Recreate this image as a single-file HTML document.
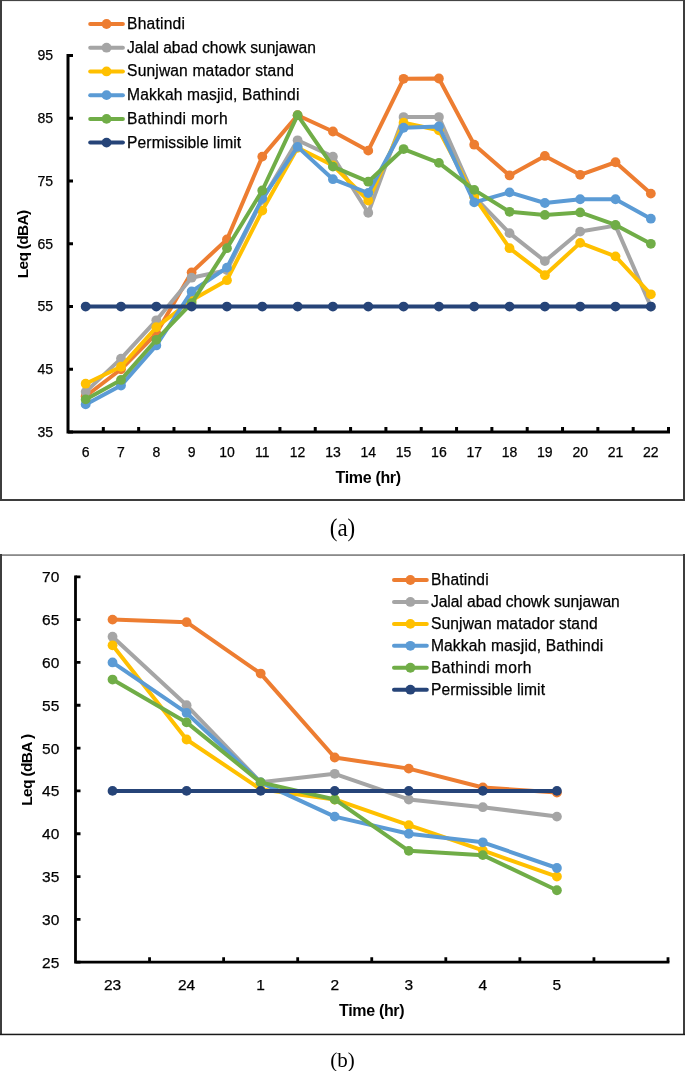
<!DOCTYPE html>
<html><head><meta charset="utf-8"><style>
html,body{margin:0;padding:0;background:#fff;width:685px;height:1071px;overflow:hidden}
svg text{font-family:"Liberation Sans",sans-serif;fill:#000;stroke:#000;stroke-width:0.25px}
</style></head><body>
<svg width="685" height="1071" viewBox="0 0 685 1071" style="display:block;font-family:'Liberation Sans',sans-serif;fill:#000;will-change:transform"><rect x="0" y="0" width="685" height="1.1" fill="#444"/>
<rect x="0" y="0" width="2" height="501" fill="#3d3d3d"/>
<rect x="683" y="0" width="2" height="501" fill="#3d3d3d"/>
<rect x="0" y="499" width="685" height="2" fill="#3d3d3d"/>
<rect x="0" y="554.2" width="685" height="1.8" fill="#8a8a8a"/>
<rect x="0" y="554" width="2" height="481" fill="#3d3d3d"/>
<rect x="683" y="554" width="2" height="481" fill="#3d3d3d"/>
<rect x="0" y="1033.7" width="685" height="1.5" fill="#1a1a1a"/>
<path d="M68 55.6 V432 H668.5" fill="none" stroke="#000" stroke-width="3" stroke-linecap="square"/>
<text x="53.1" y="436.80" text-anchor="end" style="font-size:14px">35</text>
<text x="53.1" y="374.07" text-anchor="end" style="font-size:14px">45</text>
<text x="53.1" y="311.33" text-anchor="end" style="font-size:14px">55</text>
<text x="53.1" y="248.60" text-anchor="end" style="font-size:14px">65</text>
<text x="53.1" y="185.87" text-anchor="end" style="font-size:14px">75</text>
<text x="53.1" y="123.13" text-anchor="end" style="font-size:14px">85</text>
<text x="53.1" y="60.40" text-anchor="end" style="font-size:14px">95</text>
<path d="M68 432.00 H73M68 369.27 H73M68 306.53 H73M68 243.80 H73M68 181.07 H73M68 118.33 H73M68 55.60 H73M103.32 432 V427M138.65 432 V427M173.97 432 V427M209.29 432 V427M244.62 432 V427M279.94 432 V427M315.26 432 V427M350.59 432 V427M385.91 432 V427M421.24 432 V427M456.56 432 V427M491.88 432 V427M527.21 432 V427M562.53 432 V427M597.85 432 V427M633.18 432 V427M668.50 432 V427" fill="none" stroke="#000" stroke-width="3"/>
<text x="85.66" y="456.8" text-anchor="middle" style="font-size:14px">6</text>
<text x="120.99" y="456.8" text-anchor="middle" style="font-size:14px">7</text>
<text x="156.31" y="456.8" text-anchor="middle" style="font-size:14px">8</text>
<text x="191.63" y="456.8" text-anchor="middle" style="font-size:14px">9</text>
<text x="226.96" y="456.8" text-anchor="middle" style="font-size:14px">10</text>
<text x="262.28" y="456.8" text-anchor="middle" style="font-size:14px">11</text>
<text x="297.60" y="456.8" text-anchor="middle" style="font-size:14px">12</text>
<text x="332.93" y="456.8" text-anchor="middle" style="font-size:14px">13</text>
<text x="368.25" y="456.8" text-anchor="middle" style="font-size:14px">14</text>
<text x="403.57" y="456.8" text-anchor="middle" style="font-size:14px">15</text>
<text x="438.90" y="456.8" text-anchor="middle" style="font-size:14px">16</text>
<text x="474.22" y="456.8" text-anchor="middle" style="font-size:14px">17</text>
<text x="509.54" y="456.8" text-anchor="middle" style="font-size:14px">18</text>
<text x="544.87" y="456.8" text-anchor="middle" style="font-size:14px">19</text>
<text x="580.19" y="456.8" text-anchor="middle" style="font-size:14px">20</text>
<text x="615.51" y="456.8" text-anchor="middle" style="font-size:14px">21</text>
<text x="650.84" y="456.8" text-anchor="middle" style="font-size:14px">22</text>
<text x="368.3" y="482.6" text-anchor="middle" font-weight="bold" textLength="65.5" lengthAdjust="spacing" style="stroke:none;font-size:16px">Time (hr)</text>
<text transform="translate(28 244) rotate(-90)" text-anchor="middle" font-weight="bold" textLength="68.5" lengthAdjust="spacing" style="stroke:none;font-size:15.5px">Leq (dBA)</text>
<polyline points="85.66,396.24 120.99,369.27 156.31,333.51 191.63,272.34 226.96,239.41 262.28,156.60 297.60,115.20 332.93,131.51 368.25,150.64 403.57,78.81 438.90,78.50 474.22,144.68 509.54,175.42 544.87,155.97 580.19,174.79 615.51,162.25 650.84,193.61" fill="none" stroke="#ED7D31" stroke-width="4.0" stroke-linejoin="round" stroke-linecap="round"/>
<circle cx="85.66" cy="396.24" r="4.9" fill="#ED7D31"/>
<circle cx="120.99" cy="369.27" r="4.9" fill="#ED7D31"/>
<circle cx="156.31" cy="333.51" r="4.9" fill="#ED7D31"/>
<circle cx="191.63" cy="272.34" r="4.9" fill="#ED7D31"/>
<circle cx="226.96" cy="239.41" r="4.9" fill="#ED7D31"/>
<circle cx="262.28" cy="156.60" r="4.9" fill="#ED7D31"/>
<circle cx="297.60" cy="115.20" r="4.9" fill="#ED7D31"/>
<circle cx="332.93" cy="131.51" r="4.9" fill="#ED7D31"/>
<circle cx="368.25" cy="150.64" r="4.9" fill="#ED7D31"/>
<circle cx="403.57" cy="78.81" r="4.9" fill="#ED7D31"/>
<circle cx="438.90" cy="78.50" r="4.9" fill="#ED7D31"/>
<circle cx="474.22" cy="144.68" r="4.9" fill="#ED7D31"/>
<circle cx="509.54" cy="175.42" r="4.9" fill="#ED7D31"/>
<circle cx="544.87" cy="155.97" r="4.9" fill="#ED7D31"/>
<circle cx="580.19" cy="174.79" r="4.9" fill="#ED7D31"/>
<circle cx="615.51" cy="162.25" r="4.9" fill="#ED7D31"/>
<circle cx="650.84" cy="193.61" r="4.9" fill="#ED7D31"/>
<polyline points="85.66,391.85 120.99,358.60 156.31,320.33 191.63,277.68 226.96,270.15 262.28,199.89 297.60,140.29 332.93,156.60 368.25,212.75 403.57,117.08 438.90,117.08 474.22,196.75 509.54,233.14 544.87,261.05 580.19,231.57 615.51,225.61 650.84,306.53" fill="none" stroke="#A5A5A5" stroke-width="4.0" stroke-linejoin="round" stroke-linecap="round"/>
<circle cx="85.66" cy="391.85" r="4.9" fill="#A5A5A5"/>
<circle cx="120.99" cy="358.60" r="4.9" fill="#A5A5A5"/>
<circle cx="156.31" cy="320.33" r="4.9" fill="#A5A5A5"/>
<circle cx="191.63" cy="277.68" r="4.9" fill="#A5A5A5"/>
<circle cx="226.96" cy="270.15" r="4.9" fill="#A5A5A5"/>
<circle cx="262.28" cy="199.89" r="4.9" fill="#A5A5A5"/>
<circle cx="297.60" cy="140.29" r="4.9" fill="#A5A5A5"/>
<circle cx="332.93" cy="156.60" r="4.9" fill="#A5A5A5"/>
<circle cx="368.25" cy="212.75" r="4.9" fill="#A5A5A5"/>
<circle cx="403.57" cy="117.08" r="4.9" fill="#A5A5A5"/>
<circle cx="438.90" cy="117.08" r="4.9" fill="#A5A5A5"/>
<circle cx="474.22" cy="196.75" r="4.9" fill="#A5A5A5"/>
<circle cx="509.54" cy="233.14" r="4.9" fill="#A5A5A5"/>
<circle cx="544.87" cy="261.05" r="4.9" fill="#A5A5A5"/>
<circle cx="580.19" cy="231.57" r="4.9" fill="#A5A5A5"/>
<circle cx="615.51" cy="225.61" r="4.9" fill="#A5A5A5"/>
<circle cx="650.84" cy="306.53" r="4.9" fill="#A5A5A5"/>
<polyline points="85.66,383.70 120.99,366.76 156.31,327.24 191.63,300.26 226.96,280.19 262.28,210.55 297.60,147.82 332.93,165.38 368.25,200.51 403.57,122.72 438.90,130.25 474.22,196.75 509.54,248.19 544.87,275.17 580.19,242.86 615.51,256.35 650.84,294.30" fill="none" stroke="#FFC000" stroke-width="4.0" stroke-linejoin="round" stroke-linecap="round"/>
<circle cx="85.66" cy="383.70" r="4.9" fill="#FFC000"/>
<circle cx="120.99" cy="366.76" r="4.9" fill="#FFC000"/>
<circle cx="156.31" cy="327.24" r="4.9" fill="#FFC000"/>
<circle cx="191.63" cy="300.26" r="4.9" fill="#FFC000"/>
<circle cx="226.96" cy="280.19" r="4.9" fill="#FFC000"/>
<circle cx="262.28" cy="210.55" r="4.9" fill="#FFC000"/>
<circle cx="297.60" cy="147.82" r="4.9" fill="#FFC000"/>
<circle cx="332.93" cy="165.38" r="4.9" fill="#FFC000"/>
<circle cx="368.25" cy="200.51" r="4.9" fill="#FFC000"/>
<circle cx="403.57" cy="122.72" r="4.9" fill="#FFC000"/>
<circle cx="438.90" cy="130.25" r="4.9" fill="#FFC000"/>
<circle cx="474.22" cy="196.75" r="4.9" fill="#FFC000"/>
<circle cx="509.54" cy="248.19" r="4.9" fill="#FFC000"/>
<circle cx="544.87" cy="275.17" r="4.9" fill="#FFC000"/>
<circle cx="580.19" cy="242.86" r="4.9" fill="#FFC000"/>
<circle cx="615.51" cy="256.35" r="4.9" fill="#FFC000"/>
<circle cx="650.84" cy="294.30" r="4.9" fill="#FFC000"/>
<polyline points="85.66,404.40 120.99,385.58 156.31,345.43 191.63,291.48 226.96,267.64 262.28,198.63 297.60,146.88 332.93,179.18 368.25,192.99 403.57,127.74 438.90,126.49 474.22,202.40 509.54,192.36 544.87,203.02 580.19,199.26 615.51,199.26 650.84,218.71" fill="none" stroke="#5B9BD5" stroke-width="4.0" stroke-linejoin="round" stroke-linecap="round"/>
<circle cx="85.66" cy="404.40" r="4.9" fill="#5B9BD5"/>
<circle cx="120.99" cy="385.58" r="4.9" fill="#5B9BD5"/>
<circle cx="156.31" cy="345.43" r="4.9" fill="#5B9BD5"/>
<circle cx="191.63" cy="291.48" r="4.9" fill="#5B9BD5"/>
<circle cx="226.96" cy="267.64" r="4.9" fill="#5B9BD5"/>
<circle cx="262.28" cy="198.63" r="4.9" fill="#5B9BD5"/>
<circle cx="297.60" cy="146.88" r="4.9" fill="#5B9BD5"/>
<circle cx="332.93" cy="179.18" r="4.9" fill="#5B9BD5"/>
<circle cx="368.25" cy="192.99" r="4.9" fill="#5B9BD5"/>
<circle cx="403.57" cy="127.74" r="4.9" fill="#5B9BD5"/>
<circle cx="438.90" cy="126.49" r="4.9" fill="#5B9BD5"/>
<circle cx="474.22" cy="202.40" r="4.9" fill="#5B9BD5"/>
<circle cx="509.54" cy="192.36" r="4.9" fill="#5B9BD5"/>
<circle cx="544.87" cy="203.02" r="4.9" fill="#5B9BD5"/>
<circle cx="580.19" cy="199.26" r="4.9" fill="#5B9BD5"/>
<circle cx="615.51" cy="199.26" r="4.9" fill="#5B9BD5"/>
<circle cx="650.84" cy="218.71" r="4.9" fill="#5B9BD5"/>
<polyline points="85.66,399.38 120.99,379.93 156.31,339.78 191.63,303.08 226.96,248.19 262.28,190.48 297.60,115.20 332.93,166.64 368.25,181.69 403.57,149.07 438.90,162.87 474.22,189.85 509.54,211.81 544.87,214.94 580.19,212.43 615.51,224.98 650.84,243.80" fill="none" stroke="#70AD47" stroke-width="4.0" stroke-linejoin="round" stroke-linecap="round"/>
<circle cx="85.66" cy="399.38" r="4.9" fill="#70AD47"/>
<circle cx="120.99" cy="379.93" r="4.9" fill="#70AD47"/>
<circle cx="156.31" cy="339.78" r="4.9" fill="#70AD47"/>
<circle cx="191.63" cy="303.08" r="4.9" fill="#70AD47"/>
<circle cx="226.96" cy="248.19" r="4.9" fill="#70AD47"/>
<circle cx="262.28" cy="190.48" r="4.9" fill="#70AD47"/>
<circle cx="297.60" cy="115.20" r="4.9" fill="#70AD47"/>
<circle cx="332.93" cy="166.64" r="4.9" fill="#70AD47"/>
<circle cx="368.25" cy="181.69" r="4.9" fill="#70AD47"/>
<circle cx="403.57" cy="149.07" r="4.9" fill="#70AD47"/>
<circle cx="438.90" cy="162.87" r="4.9" fill="#70AD47"/>
<circle cx="474.22" cy="189.85" r="4.9" fill="#70AD47"/>
<circle cx="509.54" cy="211.81" r="4.9" fill="#70AD47"/>
<circle cx="544.87" cy="214.94" r="4.9" fill="#70AD47"/>
<circle cx="580.19" cy="212.43" r="4.9" fill="#70AD47"/>
<circle cx="615.51" cy="224.98" r="4.9" fill="#70AD47"/>
<circle cx="650.84" cy="243.80" r="4.9" fill="#70AD47"/>
<polyline points="85.66,306.53 120.99,306.53 156.31,306.53 191.63,306.53 226.96,306.53 262.28,306.53 297.60,306.53 332.93,306.53 368.25,306.53 403.57,306.53 438.90,306.53 474.22,306.53 509.54,306.53 544.87,306.53 580.19,306.53 615.51,306.53 650.84,306.53" fill="none" stroke="#264478" stroke-width="4.0" stroke-linejoin="round" stroke-linecap="round"/>
<circle cx="85.66" cy="306.53" r="4.9" fill="#264478"/>
<circle cx="120.99" cy="306.53" r="4.9" fill="#264478"/>
<circle cx="156.31" cy="306.53" r="4.9" fill="#264478"/>
<circle cx="191.63" cy="306.53" r="4.9" fill="#264478"/>
<circle cx="226.96" cy="306.53" r="4.9" fill="#264478"/>
<circle cx="262.28" cy="306.53" r="4.9" fill="#264478"/>
<circle cx="297.60" cy="306.53" r="4.9" fill="#264478"/>
<circle cx="332.93" cy="306.53" r="4.9" fill="#264478"/>
<circle cx="368.25" cy="306.53" r="4.9" fill="#264478"/>
<circle cx="403.57" cy="306.53" r="4.9" fill="#264478"/>
<circle cx="438.90" cy="306.53" r="4.9" fill="#264478"/>
<circle cx="474.22" cy="306.53" r="4.9" fill="#264478"/>
<circle cx="509.54" cy="306.53" r="4.9" fill="#264478"/>
<circle cx="544.87" cy="306.53" r="4.9" fill="#264478"/>
<circle cx="580.19" cy="306.53" r="4.9" fill="#264478"/>
<circle cx="615.51" cy="306.53" r="4.9" fill="#264478"/>
<circle cx="650.84" cy="306.53" r="4.9" fill="#264478"/>
<line x1="90.2" y1="24.00" x2="122.9" y2="24.00" stroke="#ED7D31" stroke-width="4.0" stroke-linecap="round"/>
<circle cx="106.55" cy="24.00" r="4.9" fill="#ED7D31"/>
<text x="127.1" y="29.00" textLength="57.8" lengthAdjust="spacing" style="font-size:15.6px">Bhatindi</text>
<line x1="90.2" y1="47.72" x2="122.9" y2="47.72" stroke="#A5A5A5" stroke-width="4.0" stroke-linecap="round"/>
<circle cx="106.55" cy="47.72" r="4.9" fill="#A5A5A5"/>
<text x="127.1" y="52.72" textLength="188.8" lengthAdjust="spacing" style="font-size:15.6px">Jalal abad chowk sunjawan</text>
<line x1="90.2" y1="71.44" x2="122.9" y2="71.44" stroke="#FFC000" stroke-width="4.0" stroke-linecap="round"/>
<circle cx="106.55" cy="71.44" r="4.9" fill="#FFC000"/>
<text x="127.1" y="76.44" textLength="166.8" lengthAdjust="spacing" style="font-size:15.6px">Sunjwan matador stand</text>
<line x1="90.2" y1="95.16" x2="122.9" y2="95.16" stroke="#5B9BD5" stroke-width="4.0" stroke-linecap="round"/>
<circle cx="106.55" cy="95.16" r="4.9" fill="#5B9BD5"/>
<text x="127.1" y="100.16" textLength="172.3" lengthAdjust="spacing" style="font-size:15.6px">Makkah masjid, Bathindi</text>
<line x1="90.2" y1="118.88" x2="122.9" y2="118.88" stroke="#70AD47" stroke-width="4.0" stroke-linecap="round"/>
<circle cx="106.55" cy="118.88" r="4.9" fill="#70AD47"/>
<text x="127.1" y="123.88" textLength="100.5" lengthAdjust="spacing" style="font-size:15.6px">Bathindi morh</text>
<line x1="90.2" y1="142.60" x2="122.9" y2="142.60" stroke="#264478" stroke-width="4.0" stroke-linecap="round"/>
<circle cx="106.55" cy="142.60" r="4.9" fill="#264478"/>
<text x="127.1" y="147.60" textLength="114.1" lengthAdjust="spacing" style="font-size:15.6px">Permissible limit</text>
<path d="M75.5 576.8 V962.2 H668" fill="none" stroke="#000" stroke-width="2.8" stroke-linecap="square"/>
<text x="59.3" y="967.70" text-anchor="end" style="font-size:15.5px">25</text>
<text x="59.3" y="924.88" text-anchor="end" style="font-size:15.5px">30</text>
<text x="59.3" y="882.06" text-anchor="end" style="font-size:15.5px">35</text>
<text x="59.3" y="839.23" text-anchor="end" style="font-size:15.5px">40</text>
<text x="59.3" y="796.41" text-anchor="end" style="font-size:15.5px">45</text>
<text x="59.3" y="753.59" text-anchor="end" style="font-size:15.5px">50</text>
<text x="59.3" y="710.77" text-anchor="end" style="font-size:15.5px">55</text>
<text x="59.3" y="667.94" text-anchor="end" style="font-size:15.5px">60</text>
<text x="59.3" y="625.12" text-anchor="end" style="font-size:15.5px">65</text>
<text x="59.3" y="582.30" text-anchor="end" style="font-size:15.5px">70</text>
<path d="M75.5 962.20 H80.5M75.5 919.38 H80.5M75.5 876.56 H80.5M75.5 833.73 H80.5M75.5 790.91 H80.5M75.5 748.09 H80.5M75.5 705.27 H80.5M75.5 662.44 H80.5M75.5 619.62 H80.5M75.5 576.80 H80.5M149.56 962.2 V957.2M223.62 962.2 V957.2M297.69 962.2 V957.2M371.75 962.2 V957.2M445.81 962.2 V957.2M519.88 962.2 V957.2M593.94 962.2 V957.2M668.00 962.2 V957.2" fill="none" stroke="#000" stroke-width="2.8"/>
<text x="112.53" y="990" text-anchor="middle" style="font-size:15.5px">23</text>
<text x="186.59" y="990" text-anchor="middle" style="font-size:15.5px">24</text>
<text x="260.66" y="990" text-anchor="middle" style="font-size:15.5px">1</text>
<text x="334.72" y="990" text-anchor="middle" style="font-size:15.5px">2</text>
<text x="408.78" y="990" text-anchor="middle" style="font-size:15.5px">3</text>
<text x="482.84" y="990" text-anchor="middle" style="font-size:15.5px">4</text>
<text x="556.91" y="990" text-anchor="middle" style="font-size:15.5px">5</text>
<text x="371.8" y="1016.2" text-anchor="middle" font-weight="bold" textLength="65.5" lengthAdjust="spacing" style="stroke:none;font-size:16px">Time (hr)</text>
<text transform="translate(32 769.8) rotate(-90)" text-anchor="middle" font-weight="bold" textLength="72" lengthAdjust="spacing" style="stroke:none;font-size:15.5px">Leq (dBA )</text>
<polyline points="112.53,619.62 186.59,622.19 260.66,673.58 334.72,757.51 408.78,768.64 482.84,787.49 556.91,792.62" fill="none" stroke="#ED7D31" stroke-width="4.0" stroke-linejoin="round" stroke-linecap="round"/>
<circle cx="112.53" cy="619.62" r="4.9" fill="#ED7D31"/>
<circle cx="186.59" cy="622.19" r="4.9" fill="#ED7D31"/>
<circle cx="260.66" cy="673.58" r="4.9" fill="#ED7D31"/>
<circle cx="334.72" cy="757.51" r="4.9" fill="#ED7D31"/>
<circle cx="408.78" cy="768.64" r="4.9" fill="#ED7D31"/>
<circle cx="482.84" cy="787.49" r="4.9" fill="#ED7D31"/>
<circle cx="556.91" cy="792.62" r="4.9" fill="#ED7D31"/>
<polyline points="112.53,636.75 186.59,705.27 260.66,782.35 334.72,773.78 408.78,799.48 482.84,807.18 556.91,816.60" fill="none" stroke="#A5A5A5" stroke-width="4.0" stroke-linejoin="round" stroke-linecap="round"/>
<circle cx="112.53" cy="636.75" r="4.9" fill="#A5A5A5"/>
<circle cx="186.59" cy="705.27" r="4.9" fill="#A5A5A5"/>
<circle cx="260.66" cy="782.35" r="4.9" fill="#A5A5A5"/>
<circle cx="334.72" cy="773.78" r="4.9" fill="#A5A5A5"/>
<circle cx="408.78" cy="799.48" r="4.9" fill="#A5A5A5"/>
<circle cx="482.84" cy="807.18" r="4.9" fill="#A5A5A5"/>
<circle cx="556.91" cy="816.60" r="4.9" fill="#A5A5A5"/>
<polyline points="112.53,645.32 186.59,739.52 260.66,789.20 334.72,799.48 408.78,825.17 482.84,850.43 556.91,876.56" fill="none" stroke="#FFC000" stroke-width="4.0" stroke-linejoin="round" stroke-linecap="round"/>
<circle cx="112.53" cy="645.32" r="4.9" fill="#FFC000"/>
<circle cx="186.59" cy="739.52" r="4.9" fill="#FFC000"/>
<circle cx="260.66" cy="789.20" r="4.9" fill="#FFC000"/>
<circle cx="334.72" cy="799.48" r="4.9" fill="#FFC000"/>
<circle cx="408.78" cy="825.17" r="4.9" fill="#FFC000"/>
<circle cx="482.84" cy="850.43" r="4.9" fill="#FFC000"/>
<circle cx="556.91" cy="876.56" r="4.9" fill="#FFC000"/>
<polyline points="112.53,662.44 186.59,712.97 260.66,782.35 334.72,816.60 408.78,833.73 482.84,842.30 556.91,867.99" fill="none" stroke="#5B9BD5" stroke-width="4.0" stroke-linejoin="round" stroke-linecap="round"/>
<circle cx="112.53" cy="662.44" r="4.9" fill="#5B9BD5"/>
<circle cx="186.59" cy="712.97" r="4.9" fill="#5B9BD5"/>
<circle cx="260.66" cy="782.35" r="4.9" fill="#5B9BD5"/>
<circle cx="334.72" cy="816.60" r="4.9" fill="#5B9BD5"/>
<circle cx="408.78" cy="833.73" r="4.9" fill="#5B9BD5"/>
<circle cx="482.84" cy="842.30" r="4.9" fill="#5B9BD5"/>
<circle cx="556.91" cy="867.99" r="4.9" fill="#5B9BD5"/>
<polyline points="112.53,679.57 186.59,722.40 260.66,782.35 334.72,799.48 408.78,850.86 482.84,855.14 556.91,890.26" fill="none" stroke="#70AD47" stroke-width="4.0" stroke-linejoin="round" stroke-linecap="round"/>
<circle cx="112.53" cy="679.57" r="4.9" fill="#70AD47"/>
<circle cx="186.59" cy="722.40" r="4.9" fill="#70AD47"/>
<circle cx="260.66" cy="782.35" r="4.9" fill="#70AD47"/>
<circle cx="334.72" cy="799.48" r="4.9" fill="#70AD47"/>
<circle cx="408.78" cy="850.86" r="4.9" fill="#70AD47"/>
<circle cx="482.84" cy="855.14" r="4.9" fill="#70AD47"/>
<circle cx="556.91" cy="890.26" r="4.9" fill="#70AD47"/>
<polyline points="112.53,790.91 186.59,790.91 260.66,790.91 334.72,790.91 408.78,790.91 482.84,790.91 556.91,790.91" fill="none" stroke="#264478" stroke-width="4.0" stroke-linejoin="round" stroke-linecap="round"/>
<circle cx="112.53" cy="790.91" r="4.9" fill="#264478"/>
<circle cx="186.59" cy="790.91" r="4.9" fill="#264478"/>
<circle cx="260.66" cy="790.91" r="4.9" fill="#264478"/>
<circle cx="334.72" cy="790.91" r="4.9" fill="#264478"/>
<circle cx="408.78" cy="790.91" r="4.9" fill="#264478"/>
<circle cx="482.84" cy="790.91" r="4.9" fill="#264478"/>
<circle cx="556.91" cy="790.91" r="4.9" fill="#264478"/>
<line x1="394" y1="580.00" x2="426.8" y2="580.00" stroke="#ED7D31" stroke-width="4.0" stroke-linecap="round"/>
<circle cx="410.40" cy="580.00" r="4.9" fill="#ED7D31"/>
<text x="430.9" y="585.00" textLength="57.8" lengthAdjust="spacing" style="font-size:15.6px">Bhatindi</text>
<line x1="394" y1="601.94" x2="426.8" y2="601.94" stroke="#A5A5A5" stroke-width="4.0" stroke-linecap="round"/>
<circle cx="410.40" cy="601.94" r="4.9" fill="#A5A5A5"/>
<text x="430.9" y="606.94" textLength="188.8" lengthAdjust="spacing" style="font-size:15.6px">Jalal abad chowk sunjawan</text>
<line x1="394" y1="623.88" x2="426.8" y2="623.88" stroke="#FFC000" stroke-width="4.0" stroke-linecap="round"/>
<circle cx="410.40" cy="623.88" r="4.9" fill="#FFC000"/>
<text x="430.9" y="628.88" textLength="166.8" lengthAdjust="spacing" style="font-size:15.6px">Sunjwan matador stand</text>
<line x1="394" y1="645.82" x2="426.8" y2="645.82" stroke="#5B9BD5" stroke-width="4.0" stroke-linecap="round"/>
<circle cx="410.40" cy="645.82" r="4.9" fill="#5B9BD5"/>
<text x="430.9" y="650.82" textLength="172.3" lengthAdjust="spacing" style="font-size:15.6px">Makkah masjid, Bathindi</text>
<line x1="394" y1="667.76" x2="426.8" y2="667.76" stroke="#70AD47" stroke-width="4.0" stroke-linecap="round"/>
<circle cx="410.40" cy="667.76" r="4.9" fill="#70AD47"/>
<text x="430.9" y="672.76" textLength="100.5" lengthAdjust="spacing" style="font-size:15.6px">Bathindi morh</text>
<line x1="394" y1="689.70" x2="426.8" y2="689.70" stroke="#264478" stroke-width="4.0" stroke-linecap="round"/>
<circle cx="410.40" cy="689.70" r="4.9" fill="#264478"/>
<text x="430.9" y="694.70" textLength="114.1" lengthAdjust="spacing" style="font-size:15.6px">Permissible limit</text>
<text transform="translate(342.5 536.0) scale(1 1.085)" x="0" y="0" text-anchor="middle" style="stroke:none;font-family:'Liberation Serif',serif;font-size:23px">(a)</text>
<text x="342.5" y="1066.5" text-anchor="middle" style="stroke:none;font-family:'Liberation Serif',serif;font-size:21px">(b)</text></svg>
</body></html>
